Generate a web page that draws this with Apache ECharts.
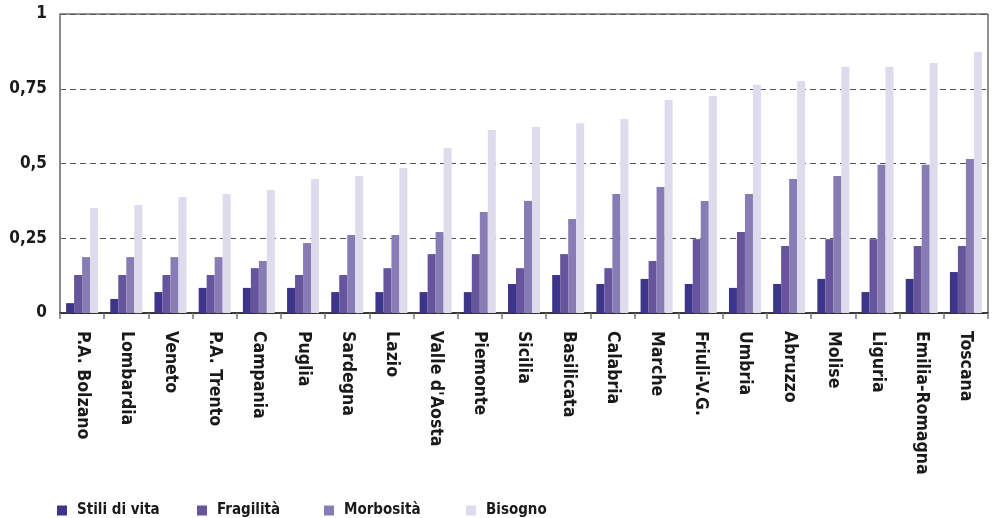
<!DOCTYPE html>
<html>
<head>
<meta charset="utf-8">
<script src="https://cdn.jsdelivr.net/npm/echarts@6/dist/echarts.min.js"></script>
<style>
  html, body { margin: 0; padding: 0; background: #fff; }
  #chart { width: 994px; height: 518px; }
</style>
</head>
<body>
<div id="chart"></div>
<script>
// Regioni, ordinate per indice di bisogno crescente
const regioni = ['P.A. Bolzano', 'Lombardia', 'Veneto', 'P.A. Trento', 'Campania', 'Puglia',
  'Sardegna', 'Lazio', "Valle d'Aosta", 'Piemonte', 'Sicilia', 'Basilicata', 'Calabria',
  'Marche', 'Friuli-V.G.', 'Umbria', 'Abruzzo', 'Molise', 'Liguria', 'Emilia-Romagna', 'Toscana'];

const stiliDiVita = [0.033, 0.047, 0.070, 0.084, 0.084, 0.084, 0.070, 0.070, 0.070, 0.070, 0.097,
  0.127, 0.097, 0.114, 0.097, 0.084, 0.097, 0.114, 0.070, 0.114, 0.137];
const fragilita = [0.127, 0.127, 0.127, 0.127, 0.150, 0.127, 0.127, 0.150, 0.197, 0.197, 0.150,
  0.197, 0.150, 0.174, 0.247, 0.271, 0.224, 0.247, 0.247, 0.224, 0.224];
const morbosita = [0.187, 0.187, 0.187, 0.187, 0.174, 0.234, 0.261, 0.261, 0.271, 0.338, 0.375,
  0.314, 0.398, 0.421, 0.375, 0.398, 0.448, 0.458, 0.496, 0.496, 0.515];
const bisogno = [0.351, 0.361, 0.388, 0.398, 0.411, 0.448, 0.458, 0.485, 0.552, 0.612, 0.622,
  0.635, 0.649, 0.712, 0.726, 0.763, 0.776, 0.823, 0.823, 0.836, 0.873];

const yTicks = [0, 0.25, 0.5, 0.75, 1];

const nomiSerie = ['Stili di vita', 'Fragilità', 'Morbosità', 'Bisogno'];
const valoriSerie = [stiliDiVita, fragilita, morbosita, bisogno];
const colori = ['#3d3589', '#66549c', '#887cb4', '#dedbec'];

const FONT = '"DejaVu Sans Condensed", "DejaVu Sans", sans-serif';
const legendLeft = [57, 197, 324, 466];

const chart = echarts.init(document.getElementById('chart'), null, { renderer: 'canvas' });

chart.setOption({
  animation: false,
  backgroundColor: '#ffffff',
  grid: {
    left: 60, right: 6, top: 14, bottom: 205,
    show: true, borderColor: '#222', borderWidth: 1, backgroundColor: 'transparent'
  },
  legend: nomiSerie.map((n, i) => ({
    data: [n],
    left: legendLeft[i],
    top: 503,
    padding: 0,
    itemWidth: 10,
    itemHeight: 10,
    icon: 'rect',
    itemGap: 0,
    textStyle: { fontFamily: FONT, fontWeight: 'bold', fontSize: 15, color: '#1a1a1a', padding: [0, 0, 0, 5] }
  })),
  xAxis: {
    type: 'category',
    data: regioni,
    axisLine: { lineStyle: { color: '#222', width: 1.5 } },
    axisTick: { show: true, length: 6, lineStyle: { color: '#777', width: 1.5 } },
    axisLabel: {
      rotate: -90,
      interval: 0,
      margin: 18,
      fontFamily: FONT,
      fontWeight: 'bold',
      fontSize: 17.5,
      color: '#1a1a1a'
    }
  },
  yAxis: {
    type: 'value',
    min: 0, max: 1, interval: 0.25,
    axisLine: { show: true, lineStyle: { color: '#888', width: 2 } },
    axisTick: { show: false },
    axisLabel: {
      margin: 13,
      fontFamily: FONT,
      fontWeight: 'bold',
      fontSize: 17,
      color: '#1a1a1a',
      formatter: v => yTicks.includes(v) ? String(v).replace('.', ',') : ''
    },
    splitLine: { show: true, lineStyle: { color: '#555', type: [6, 4], width: 1.2 } }
  },
  series: nomiSerie.map((n, i) => ({
    name: n,
    type: 'bar',
    data: valoriSerie[i],
    barWidth: 8,
    barGap: '0%',
    itemStyle: { color: colori[i] }
  }))
});
</script>
</body>
</html>
